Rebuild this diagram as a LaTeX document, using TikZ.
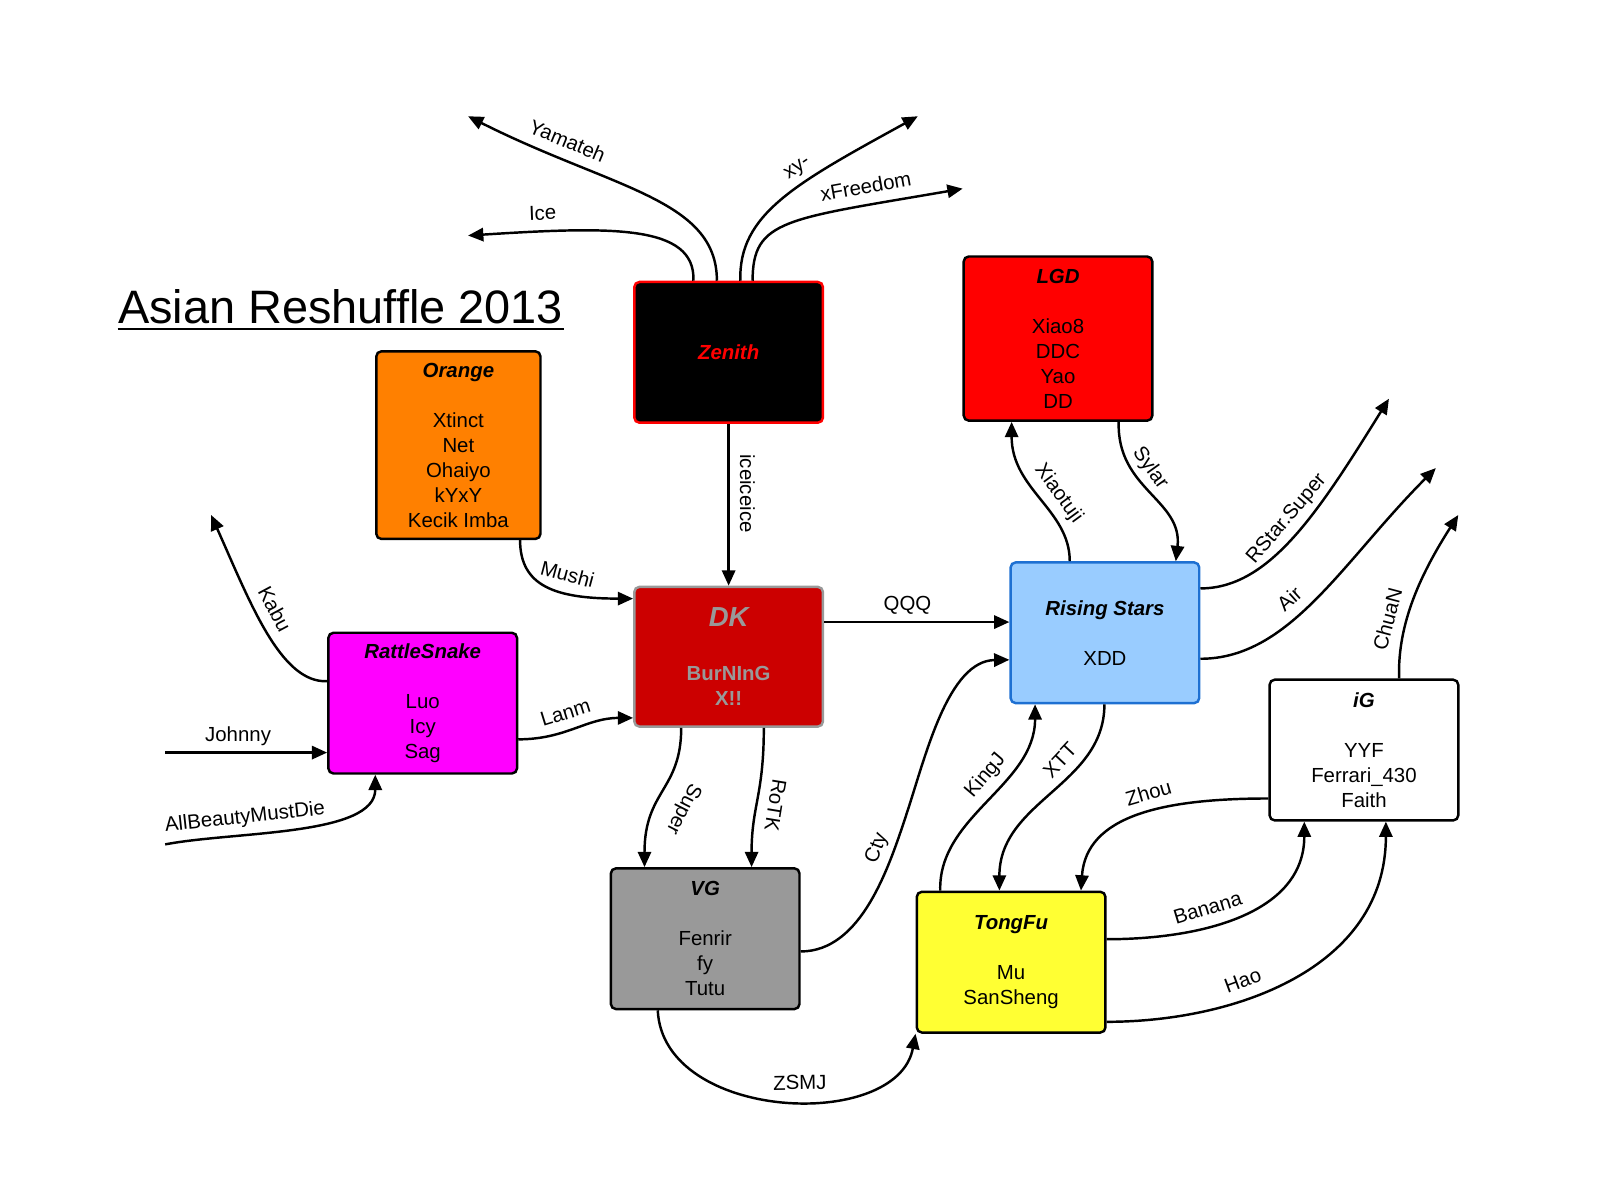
\documentclass[tikz,border=0pt]{standalone}
\usepackage{fontspec}
\setmainfont{Liberation Sans}
\usetikzlibrary{arrows.meta,calc}

\definecolor{lgdred}{HTML}{FF0000}
\definecolor{orangebox}{HTML}{FF8000}
\definecolor{dkred}{HTML}{CC0000}
\definecolor{dkgray}{HTML}{999999}
\definecolor{rsblue}{HTML}{99CCFF}
\definecolor{rsedge}{HTML}{1E70D2}
\definecolor{snake}{HTML}{FF00FF}
\definecolor{tfyellow}{HTML}{FFFF33}

\begin{document}
\begin{tikzpicture}[x=0.5pt, y=-0.5pt, >={Triangle[length=7.5pt,width=6.5pt]},
  team/.style={draw=black, line width=1.2pt, rounded corners=2.5pt, minimum width=92.5pt,
    minimum height=69pt, inner sep=0pt, align=center, font=\fontsize{10}{12.25}\selectfont},
  lbl/.style={sloped, above, inner sep=2.8pt, text height=7.5pt, text depth=2.2pt,
    font=\fontsize{10}{12}\selectfont},
  link/.style={->, line width=1.2pt}]
  \useasboundingbox (0,0) rectangle (1568,1177);

  % title
  \node[anchor=base, inner sep=0pt, font=\fontsize{23}{27}\selectfont] (title) at (334,317) {Asian Reshuffle 2013};
  \draw[line width=1pt] ([yshift=-3pt]title.base west) -- ([yshift=-3pt]title.base east);

  % teams
  \node[team, fill=black, draw=lgdred, text=lgdred, font=\fontsize{10}{12.25}\selectfont\bfseries\itshape] (zenith) at (714.5,345.5) {Zenith};
  \node[team, fill=orangebox, minimum width=80.5pt, minimum height=92pt] (orange) at (449.5,436.5)
    {\textbf{\textit{Orange}}\\[12.25pt]Xtinct\\Net\\Ohaiyo\\kYxY\\Kecik Imba};
  \node[team, fill=lgdred, minimum height=80.5pt] (lgd) at (1037.5,332)
    {\textbf{\textit{LGD}}\\[12.25pt]Xiao8\\DDC\\Yao\\DD};
  \node[team, fill=dkred, draw=dkgray, text=dkgray, minimum height=68.5pt] (dk) at (714.5,644)
    {{\fontsize{13.5}{16}\selectfont\bfseries\itshape DK}\\[14pt]\textbf{BurNInG}\\\textbf{X!!}};
  \node[team, fill=snake] (rattle) at (414.5,689.5)
    {\textbf{\textit{RattleSnake}}\\[12.25pt]Luo\\Icy\\Sag};
  \node[team, fill=rsblue, draw=rsedge] (rising) at (1083.5,620.5)
    {\textbf{\textit{Rising Stars}}\\[12.25pt]XDD};
  \node[team, fill=white] (ig) at (1337.5,735.5)
    {\textbf{\textit{iG}}\\[12.25pt]YYF\\Ferrari\_430\\Faith};
  \node[team, fill=dkgray] (vg) at (691.5,920.5)
    {\textbf{\textit{VG}}\\[12.25pt]Fenrir\\fy\\Tutu};
  \node[team, fill=tfyellow] (tongfu) at (991.5,943.5)
    {\textbf{\textit{TongFu}}\\[12.25pt]Mu\\SanSheng};

  % loose ends
  \coordinate (yamEnd) at (459,114);
  \coordinate (iceEnd) at (459,231);
  \coordinate (xyEnd) at (900,114);
  \coordinate (xfEnd) at (944,185);
  \coordinate (kabuEnd) at (207,505);
  \coordinate (johnnyStart) at (162,738);
  \coordinate (abmdStart) at (162,828);
  \coordinate (rstarEnd) at (1362,391);
  \coordinate (airEnd) at (1408,459);
  \coordinate (chuanEnd) at (1430,505);
  \coordinate (ctyMid) at (890,795);

  % players leaving Zenith
  \draw[link] ($(zenith.north)+(-11.5,0)$) .. controls (703,195) and (600,185) .. (yamEnd) node[lbl, pos=0.77] {Yamateh};
  \draw[link] ($(zenith.north)+(-34.5,0)$) .. controls (682,220) and (600,222) .. (iceEnd) node[lbl, pos=0.81] {Ice};
  \draw[link] ($(zenith.north)+(11.5,0)$) .. controls (724,210) and (780,180) .. (xyEnd) node[lbl, pos=0.62] {xy-};
  \draw[link] ($(zenith.north)+(23.5,0)$) .. controls (738,215) and (770,215) .. (xfEnd) node[lbl, pos=0.79] {xFreedom};
  \draw[link] (zenith.south) -- (dk.north) node[lbl, allow upside down, pos=0.43] {iceiceice};

  % left side
  \draw[link] ($(orange.south)+(60.5,0)$) .. controls (510,575) and (545,587) .. ($(dk.west)+(0,-57)$) node[lbl, pos=0.62] {Mushi};
  \draw[link] ($(rattle.west)+(0,-21.5)$) .. controls (275,670) and (245,590) .. (kabuEnd) node[lbl, pos=0.57] {Kabu};
  \draw[link] (johnnyStart) -- ($(rattle.west)+(0,48.5)$) node[lbl, pos=0.45] {Johnny};
  \draw[link] (abmdStart) .. controls (230,815) and (368,820) .. ($(rattle.south)+(-46.5,0)$) node[lbl, pos=0.32] {AllBeautyMustDie};
  \draw[link] ($(rattle.east)+(0,35.5)$) .. controls (555,725) and (575,704) .. ($(dk.west)+(0,60)$) node[lbl, pos=0.45] {Lanm};

  % DK and VG
  \draw[link] ($(dk.east)+(0,-34)$) -- ($(rising.west)+(0,-10.5)$) node[lbl, pos=0.45] {QQQ};
  \draw[link] ($(dk.south)+(-46.5,0)$) .. controls (668,775) and (632,775) .. ($(vg.north)+(-59.5,0)$) node[lbl, allow upside down, above=4.5pt, pos=0.55] {Super};
  \draw[link] ($(dk.south)+(34.5,0)$) .. controls (749,780) and (737,790) .. ($(vg.north)+(45.5,0)$) node[lbl, allow upside down, pos=0.52] {RoTK};
  \draw[link] ($(vg.east)+(0,12.5)$) .. controls (845,933) and (872,850) .. (ctyMid) node[lbl, pos=0.76] {Cty}
    .. controls (908,740) and (930,648) .. ($(rising.west)+(0,26.5)$);
  \draw[link] ($(vg.south)+(-46.5,0)$) .. controls (650,1100) and (880,1110) .. (tongfu.south west) node[lbl, pos=0.55] {ZSMJ};

  % Rising Stars and LGD
  \draw[link] ($(tongfu.north)+(-69.5,0)$) .. controls (920,800) and (1015,770) .. ($(rising.south)+(-68.5,0)$) node[lbl, pos=0.58] {KingJ};
  \draw[link] ($(rising.south)+(-0.5,0)$) .. controls (1083,770) and (980,785) .. ($(tongfu.north)+(-11.5,0)$) node[lbl, pos=0.36] {XTT};
  \draw[link] ($(rising.north)+(-34.5,0)$) .. controls (1049,500) and (992,480) .. ($(lgd.south)+(-45.5,0)$) node[lbl, pos=0.45] {Xiaotuji};
  \draw[link] ($(lgd.south)+(59.5,0)$) .. controls (1095,480) and (1160,490) .. ($(rising.north)+(69.5,0)$) node[lbl, pos=0.36] {Sylar};
  \draw[link] ($(rising.east)+(0,-43.5)$) .. controls (1245,577) and (1293,502) .. (rstarEnd) node[lbl, pos=0.53] {RStar.Super};
  \draw[link] ($(rising.east)+(0,25.5)$) .. controls (1265,646) and (1317,550) .. (airEnd) node[lbl, pos=0.43] {Air};

  % TongFu and iG
  \draw[link] ($(ig.west)+(0,47.5)$) .. controls (1140,783) and (1065,800) .. ($(tongfu.north)+(68.5,0)$) node[lbl, pos=0.42] {Zhou};
  \draw[link] ($(tongfu.east)+(0,-22.5)$) .. controls (1180,921) and (1279,895) .. ($(ig.south)+(-58.5,0)$) node[lbl, pos=0.38] {Banana};
  \draw[link] ($(tongfu.east)+(0,58.5)$) .. controls (1210,1002) and (1359,950) .. ($(ig.south)+(21.5,0)$) node[lbl, pos=0.37] {Hao};
  \draw[link] ($(ig.north)+(34.5,0)$) .. controls (1370,610) and (1395,560) .. (chuanEnd) node[lbl, pos=0.33] {ChuaN};
\end{tikzpicture}
\end{document}
